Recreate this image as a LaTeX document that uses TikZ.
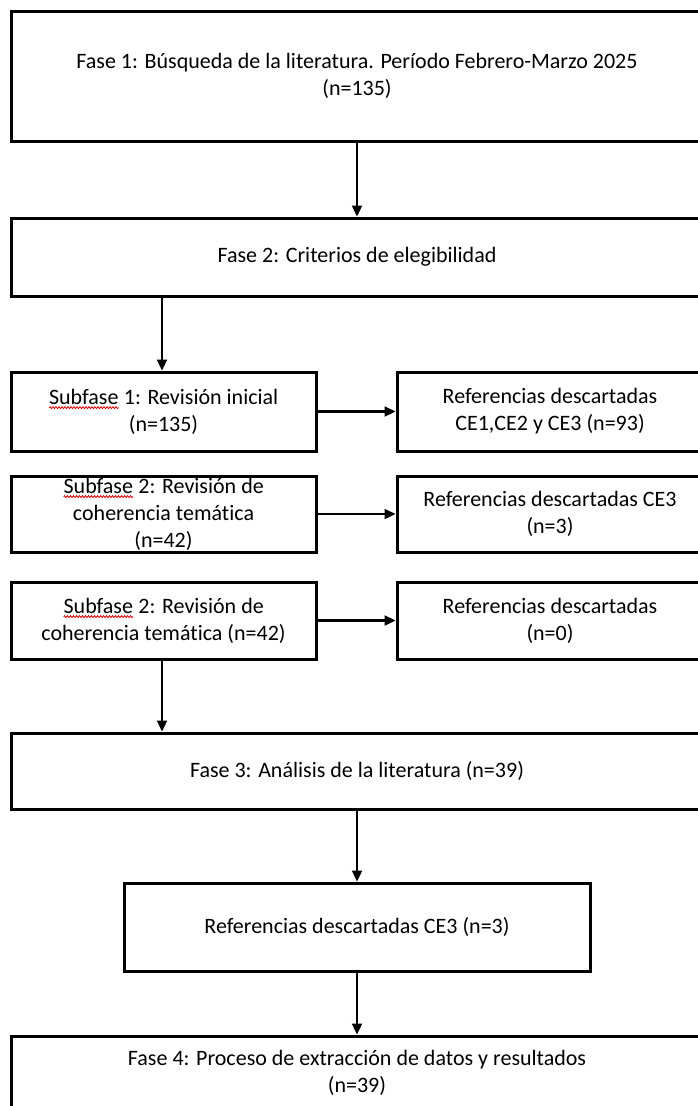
\documentclass[tikz,border=0pt]{standalone}
\usepackage{fontspec}
\setmainfont{Carlito}[Ligatures=NoCommon]
\usetikzlibrary{arrows.meta,decorations.pathmorphing}

\newcommand{\txt}{\fontsize{22}{27}\selectfont}
% spell-check wave under a word
\newcommand{\subf}{\tikz[baseline=(w.base)]{\node[draw=none,inner sep=0pt,outer sep=0pt,minimum width=0pt,minimum height=0pt] (w) {Subfase};
  \draw[red!85!black,line width=0.8pt,decorate,decoration={snake,amplitude=1pt,segment length=3pt}] ([yshift=-3.5pt]w.base west) -- ([yshift=-3.5pt]w.base east);}}

\tikzset{
  caja/.style={draw,line width=3pt,inner sep=0pt,align=center,font=\txt},
  flecha/.style={line width=2.3pt,-{Triangle[length=11pt,width=10pt]}}
}

\begin{document}
\begin{tikzpicture}[x=1pt,y=1pt,yscale=-1]
\useasboundingbox (0,0) rectangle (698,1106);

%Fases
\node[caja,minimum width=692pt,minimum height=130pt] (f1) at (357,76) {Fase 1: Búsqueda de la literatura. Período Febrero-Marzo 2025\\(n=135)};
\node[caja,minimum width=692pt,minimum height=78pt] (f2) at (357,257) {Fase 2: Criterios de elegibilidad};

%Subfases
\node[caja,minimum width=305pt,minimum height=79pt] (s1) at (163.5,411.5) {\subf{} 1: Revisión inicial\\(n=135)};
\node[caja,minimum width=305pt,minimum height=76pt] (s2) at (163.5,514) {\subf{} 2: Revisión de\\coherencia temática\\(n=42)};
\node[caja,minimum width=305pt,minimum height=77pt] (s3) at (163.5,620.5) {\subf{} 2: Revisión de\\coherencia temática (n=42)};

%Descartes
\node[caja,minimum width=306pt,minimum height=79pt] (d1) at (550,411.5) {Referencias descartadas\\CE1,CE2 y CE3 (n=93)};
\node[caja,minimum width=306pt,minimum height=76pt] (d2) at (550,514) {Referencias descartadas CE3\\(n=3)};
\node[caja,minimum width=306pt,minimum height=77pt] (d3) at (550,620.5) {Referencias descartadas\\(n=0)};

\node[caja,minimum width=692pt,minimum height=76pt] (f3) at (357,771) {Fase 3: Análisis de la literatura (n=39)};
\node[caja,minimum width=466pt,minimum height=88pt] (ce3) at (357,927) {Referencias descartadas CE3 (n=3)};
\node[caja,minimum width=692pt,minimum height=74pt] (f4) at (357,1073) {Fase 4: Proceso de extracción de datos y resultados\\(n=39)};

%Flechas
\draw[flecha] (f1) -- (f2);
\draw[flecha] (f2.south -| 162,0) -- (s1.north -| 162,0);
\draw[flecha] (s1) -- (d1);
\draw[flecha] (s2) -- (d2);
\draw[flecha] (s3) -- (d3);
\draw[flecha] (s3.south -| 162,0) -- (f3.north -| 162,0);
\draw[flecha] (f3) -- (ce3);
\draw[flecha] (ce3) -- (f4);

\end{tikzpicture}
\end{document}
